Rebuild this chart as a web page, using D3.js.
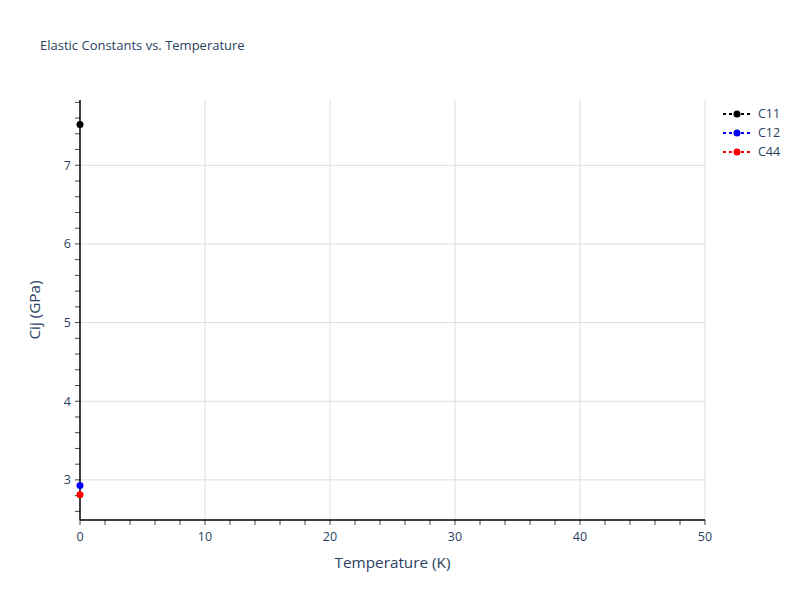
<!DOCTYPE html>
<html>
<head>
<meta charset="utf-8">
<script src="https://cdn.jsdelivr.net/npm/d3@7"></script>
<style>
  body { margin: 0; background: #fff; }
  text { font-family: "Open Sans", verdana, arial, sans-serif; fill: #2a3f5f; }
</style>
</head>
<body>
<div class="draw"></div>
<script>
const width = 800
const height = 600
const margin = {top: 100, right: 95, bottom: 80, left: 80}

// data
const temperatures = [0]
const seriesNames = ["C11", "C12", "C44"]
const seriesColors = ["black", "blue", "red"]
const c11 = [7.52]
const c12 = [2.93]
const c44 = [2.81]
const seriesValues = [c11, c12, c44]
const xTicks = [0, 10, 20, 30, 40, 50]
const yTicks = [3, 4, 5, 6, 7]

let svg = d3.select("div.draw")
    .append("svg")
    .attr("width", width)
    .attr("height", height)

let x = d3.scaleLinear()
    .domain([0, 50])
    .range([margin.left, width - margin.right])

let y = d3.scaleLinear()
    .domain([2.49, 7.83])
    .range([height - margin.bottom, margin.top])

// grid
svg.append("g")
    .selectAll("line.xgrid")
    .data(xTicks.filter(d => d > 0))
    .enter()
    .append("line")
    .attr("x1", d => x(d)).attr("x2", d => x(d))
    .attr("y1", margin.top).attr("y2", height - margin.bottom)
    .style("stroke", "#dcdcdc")
    .style("stroke-width", 1)

svg.append("g")
    .selectAll("line.ygrid")
    .data(yTicks)
    .enter()
    .append("line")
    .attr("x1", margin.left).attr("x2", width - margin.right)
    .attr("y1", d => y(d)).attr("y2", d => y(d))
    .style("stroke", "#dcdcdc")
    .style("stroke-width", 1)

// minor ticks
let xMinor = d3.range(0, 50.01, 2)
let yMinor = d3.range(2.6, 7.81, 0.2)

// x axis
let xAxis = svg.append("g")
    .attr("transform", "translate(0," + (height - margin.bottom) + ")")
xAxis.selectAll("line.minor")
    .data(xMinor)
    .enter()
    .append("line")
    .attr("x1", d => x(d)).attr("x2", d => x(d))
    .attr("y1", 0).attr("y2", 5)
    .style("stroke", "#444")
xAxis.append("line")
    .attr("x1", margin.left).attr("x2", width - margin.right)
    .style("stroke", "black").style("stroke-width", 1.5)
xAxis.selectAll("text")
    .data(xTicks)
    .enter()
    .append("text")
    .attr("x", d => x(d))
    .attr("y", 21)
    .attr("text-anchor", "middle")
    .style("font-size", "12.5px")
    .text(d => d)

// y axis
let yAxis = svg.append("g")
    .attr("transform", "translate(" + margin.left + ",0)")
yAxis.selectAll("line.minor")
    .data(yMinor)
    .enter()
    .append("line")
    .attr("x1", -5).attr("x2", 0)
    .attr("y1", d => y(d)).attr("y2", d => y(d))
    .style("stroke", "#444")
yAxis.append("line")
    .attr("y1", margin.top).attr("y2", height - margin.bottom)
    .style("stroke", "black").style("stroke-width", 1.5)
yAxis.selectAll("text")
    .data(yTicks)
    .enter()
    .append("text")
    .attr("x", -9)
    .attr("y", d => y(d))
    .attr("dy", "0.35em")
    .attr("text-anchor", "end")
    .style("font-size", "12.5px")
    .text(d => d)

// titles
svg.append("text")
    .attr("x", 40).attr("y", 50)
    .style("font-size", "13px")
    .text("Elastic Constants vs. Temperature")

svg.append("text")
    .attr("x", (margin.left + width - margin.right) / 2)
    .attr("y", 568)
    .attr("text-anchor", "middle")
    .style("font-size", "15.3px")
    .text("Temperature (K)")

svg.append("text")
    .attr("transform", "translate(40," + ((margin.top + height - margin.bottom) / 2) + ") rotate(-90)")
    .attr("text-anchor", "middle")
    .style("font-size", "15.3px")
    .text("Cij (GPa)")

// series
let line = d3.line()
    .x((d, i) => x(temperatures[i]))
    .y(d => y(d))

seriesValues.forEach(function(vals, k){
  svg.append("path")
      .attr("d", line(vals))
      .style("fill", "none")
      .style("stroke", seriesColors[k])
      .style("stroke-width", 2)
      .style("stroke-dasharray", "3,3")
  svg.selectAll("circle.s" + k)
      .data(vals)
      .enter()
      .append("circle")
      .attr("cx", (d, i) => x(temperatures[i]))
      .attr("cy", d => y(d))
      .attr("r", 3.5)
      .style("fill", seriesColors[k])
})

// legend
let legend = svg.append("g")
    .selectAll("g.item")
    .data(seriesNames)
    .enter()
    .append("g")
    .attr("transform", (d, i) => "translate(722," + (114 + i * 19) + ")")

legend.append("line")
    .attr("x1", 1).attr("x2", 30)
    .style("stroke", (d, i) => seriesColors[i])
    .style("stroke-width", 2)
    .style("stroke-dasharray", "3,3")
legend.append("circle")
    .attr("cx", 15).attr("r", 3.5)
    .style("fill", (d, i) => seriesColors[i])
legend.append("text")
    .attr("x", 36)
    .attr("dy", "0.35em")
    .style("font-size", "12.5px")
    .text(d => d)
</script>
</body>
</html>
